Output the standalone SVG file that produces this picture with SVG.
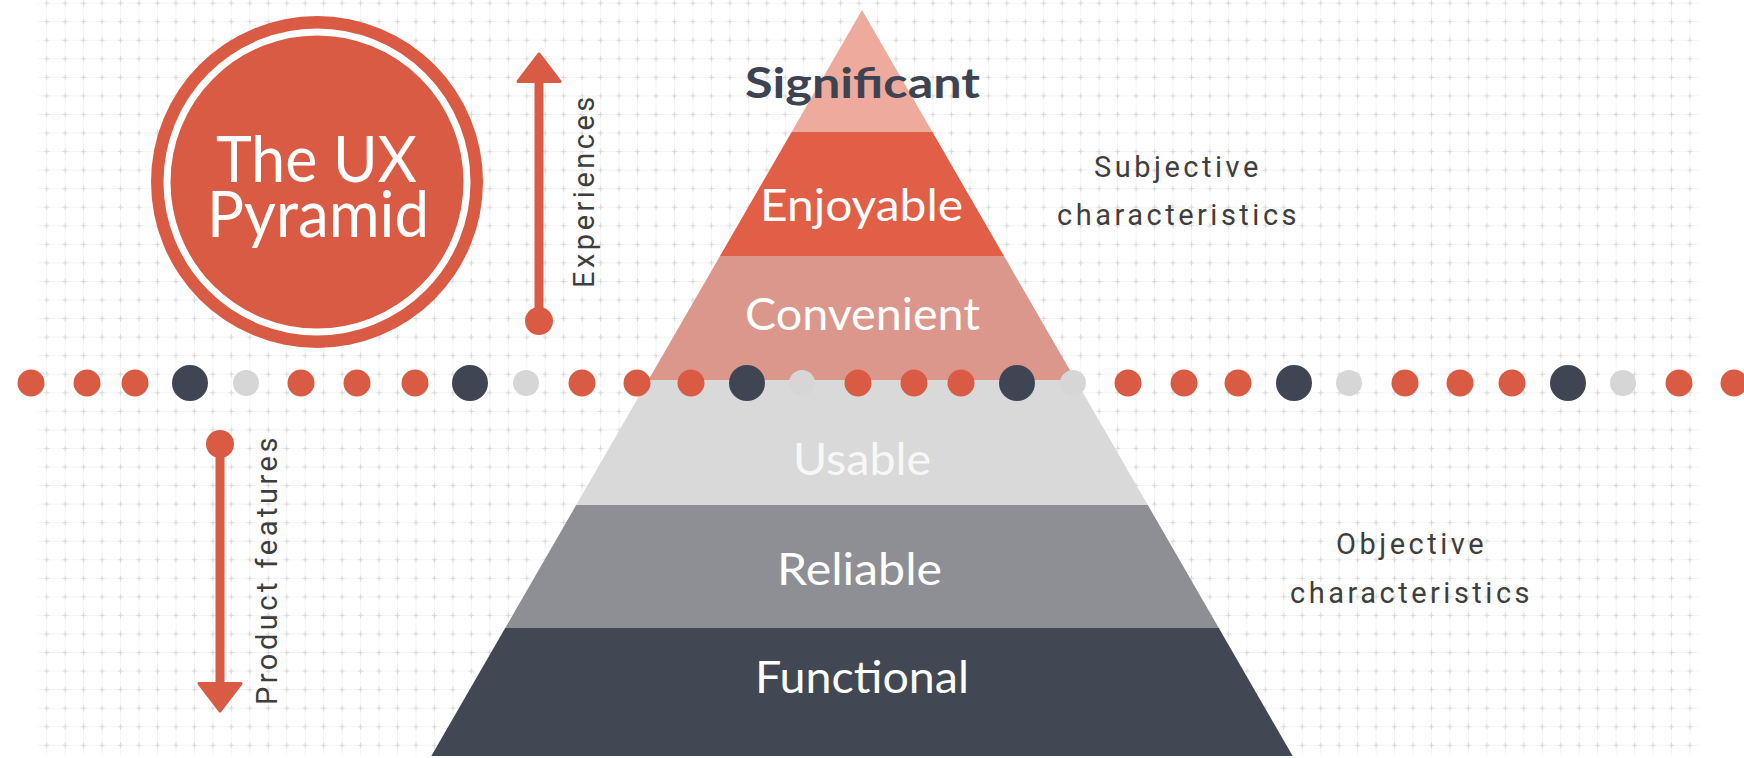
<svg xmlns="http://www.w3.org/2000/svg" width="1744" height="758" viewBox="0 0 1744 758">
  <defs>
    <pattern id="grid" x="37.468" y="12.423" width="18.464" height="18.554" patternUnits="userSpaceOnUse">
      <path d="M0 9.277H18.464M9.232 0V18.554" stroke="#f5f5f5" stroke-width="1" fill="none"/>
      <path d="M6.7 9.277h5.064M9.232 6.7v5.154" stroke="#d8d8d8" stroke-width="1.2" fill="none"/>
    </pattern>
    <style>
      .band-label { font-family: Lato, "Open Sans", "Liberation Sans", sans-serif; font-size: 45px; fill: #ffffff; text-anchor: start; }
      .side { font-family: Roboto, "Liberation Sans", sans-serif; font-size: 29px; letter-spacing: 3.5px; fill: #3e3e3e; }
      .red { fill: #DA5B43; }
      .dark { fill: #3F4552; }
      .light { fill: #D6D6D6; }
      .arrow { fill: #DA5B43; stroke: #DA5B43; stroke-linejoin: round; }
    </style>
  </defs>

  <rect width="1744" height="758" fill="#ffffff"/>
  <rect x="37.5" y="0" width="1662" height="755" fill="url(#grid)"/>

  <g id="title-circle">
    <circle cx="317" cy="182" r="166" fill="#D95B44"/>
    <circle cx="317" cy="182" r="150" fill="none" stroke="#ffffff" stroke-width="7"/>
    <text x="216" y="182" font-family="Lato, 'Open Sans', 'Liberation Sans', sans-serif" font-size="64" fill="#ffffff" textLength="201" lengthAdjust="spacingAndGlyphs">The UX</text>
    <text x="207" y="237" font-family="Lato, 'Open Sans', 'Liberation Sans', sans-serif" font-size="64" fill="#ffffff" textLength="222" lengthAdjust="spacingAndGlyphs">Pyramid</text>
  </g>

  <g id="pyramid">
    <g id="band-significant">
      <polygon points="862,10 932.4,132 791.6,132" fill="#EEAA9D"/>
    </g>
    <g id="band-enjoyable">
      <polygon points="791.6,132 932.4,132 1004,256 720,256" fill="#E15F47"/>
      <text class="band-label" x="760" y="221" textLength="203" lengthAdjust="spacingAndGlyphs">Enjoyable</text>
    </g>
    <g id="band-convenient">
      <polygon points="720,256 1004,256 1075.6,380 648.4,380" fill="#DB978B"/>
      <text class="band-label" x="745" y="330" textLength="235" lengthAdjust="spacingAndGlyphs">Convenient</text>
    </g>
    <g id="band-usable">
      <polygon points="648.4,380 1075.6,380 1147.8,505 576.2,505" fill="#D9D9D9"/>
      <text class="band-label" x="793" y="475" textLength="138" lengthAdjust="spacingAndGlyphs" style="fill:#f7f7f7">Usable</text>
    </g>
    <g id="band-reliable">
      <polygon points="576.2,505 1147.8,505 1218.8,628 505.2,628" fill="#8E8F94"/>
      <text class="band-label" x="777" y="585" textLength="165" lengthAdjust="spacingAndGlyphs">Reliable</text>
    </g>
    <g id="band-functional">
      <polygon points="505.2,628 1218.8,628 1292.7,756 431.3,756" fill="#414753"/>
      <text class="band-label" x="755" y="693" textLength="214" lengthAdjust="spacingAndGlyphs">Functional</text>
    </g>
  </g>

  <g id="dot-row">
    <circle class="red" cx="31" cy="383" r="13.5"/>
    <circle class="red" cx="87" cy="383" r="13.5"/>
    <circle class="red" cx="135" cy="383" r="13.5"/>
    <circle class="dark" cx="190" cy="383" r="18"/>
    <circle class="light" cx="246" cy="383" r="13"/>
    <circle class="red" cx="301" cy="383" r="13.5"/>
    <circle class="red" cx="357" cy="383" r="13.5"/>
    <circle class="red" cx="415" cy="383" r="13.5"/>
    <circle class="dark" cx="470" cy="383" r="18"/>
    <circle class="light" cx="526" cy="383" r="13"/>
    <circle class="red" cx="582" cy="383" r="13.5"/>
    <circle class="red" cx="637" cy="383" r="13.5"/>
    <circle class="red" cx="691" cy="383" r="13.5"/>
    <circle class="dark" cx="747" cy="383" r="18"/>
    <circle class="light" cx="802" cy="383" r="13"/>
    <circle class="red" cx="858" cy="383" r="13.5"/>
    <circle class="red" cx="914" cy="383" r="13.5"/>
    <circle class="red" cx="961" cy="383" r="13.5"/>
    <circle class="dark" cx="1017" cy="383" r="18"/>
    <circle class="light" cx="1073" cy="383" r="13"/>
    <circle class="red" cx="1128" cy="383" r="13.5"/>
    <circle class="red" cx="1184" cy="383" r="13.5"/>
    <circle class="red" cx="1238" cy="383" r="13.5"/>
    <circle class="dark" cx="1294" cy="383" r="18"/>
    <circle class="light" cx="1349" cy="383" r="13"/>
    <circle class="red" cx="1405" cy="383" r="13.5"/>
    <circle class="red" cx="1460" cy="383" r="13.5"/>
    <circle class="red" cx="1512" cy="383" r="13.5"/>
    <circle class="dark" cx="1568" cy="383" r="18"/>
    <circle class="light" cx="1623" cy="383" r="13"/>
    <circle class="red" cx="1679" cy="383" r="13.5"/>
    <circle class="red" cx="1734" cy="383" r="13.5"/>
  </g>

  <g id="label-significant">
    <text x="745" y="98" font-family="Lato, 'Open Sans', 'Liberation Sans', sans-serif" font-size="42" font-weight="700" fill="#3D4350" textLength="235" lengthAdjust="spacingAndGlyphs">Significant</text>
  </g>

  <g id="label-subjective">
    <text class="side" x="1094" y="177">Subjective</text>
    <text class="side" x="1057" y="225">characteristics</text>
  </g>
  <g id="label-objective">
    <text class="side" x="1336" y="554">Objective</text>
    <text class="side" x="1290" y="603">characteristics</text>
  </g>

  <g id="connectors">
    <g id="arrow-experiences">
      <rect x="534.5" y="78" width="9" height="243" fill="#DA5B43"/>
      <polygon class="arrow" stroke-width="3" points="539,54 518,81.5 560,81.5"/>
      <circle class="red" cx="539" cy="321" r="14"/>
    </g>
    <g id="arrow-product">
      <circle class="red" cx="220" cy="444" r="14"/>
      <rect x="215.5" y="444" width="9" height="242" fill="#DA5B43"/>
      <polygon class="arrow" stroke-width="3" points="199,683.5 241,683.5 220,711"/>
    </g>
  </g>

  <g id="label-experiences">
    <text class="side" transform="translate(594,288) rotate(-90)">Experiences</text>
  </g>
  <g id="label-product">
    <text class="side" transform="translate(277,705) rotate(-90)">Product features</text>
  </g>
</svg>
